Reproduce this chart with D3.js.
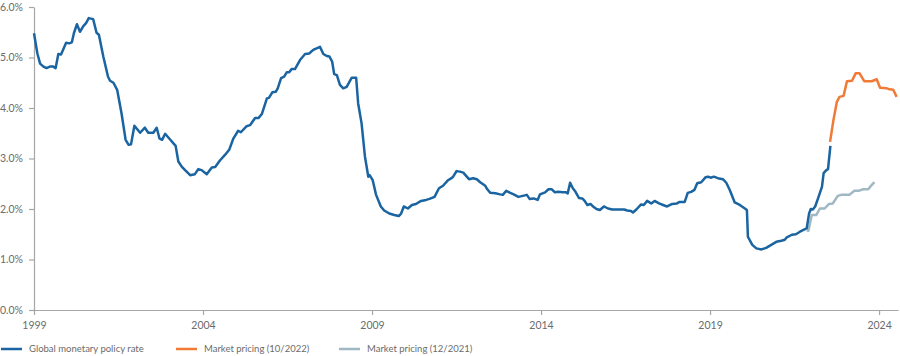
<!DOCTYPE html>
<html>
<head>
<meta charset="utf-8">
<script src="https://cdn.jsdelivr.net/npm/d3@7"></script>
<style>
  body { margin: 0; background: #fff; }
  svg text { font-family: Lato, "Open Sans", sans-serif; fill: #6b6b6b; }
</style>
</head>
<body>
<div id="chart"></div>
<script>
// global monetary policy rate (decimal year, %)
let policyYears = [1999.0, 1999.1, 1999.18, 1999.28, 1999.37, 1999.47, 1999.57, 1999.64, 1999.72, 1999.8, 1999.95,
  2000.04, 2000.12, 2000.18, 2000.27, 2000.36, 2000.46, 2000.54, 2000.62, 2000.75, 2000.85, 2000.92,
  2001.05, 2001.19, 2001.25, 2001.35, 2001.46, 2001.59, 2001.71, 2001.8, 2001.87, 2001.97,
  2002.14, 2002.28, 2002.38, 2002.53, 2002.63, 2002.71, 2002.79, 2002.88, 2003.02, 2003.19,
  2003.27, 2003.37, 2003.47, 2003.62, 2003.76, 2003.86, 2003.96, 2004.11, 2004.26, 2004.36,
  2004.5, 2004.65, 2004.78, 2004.9, 2005.04, 2005.12, 2005.29, 2005.39, 2005.54, 2005.64,
  2005.74, 2005.89, 2005.95, 2006.05, 2006.15, 2006.21, 2006.31, 2006.4, 2006.48, 2006.55,
  2006.62, 2006.72, 2006.87, 2007.02, 2007.14, 2007.26, 2007.46, 2007.56, 2007.66, 2007.74,
  2007.82, 2007.88, 2007.96, 2008.05, 2008.15, 2008.25, 2008.4, 2008.53, 2008.59, 2008.69,
  2008.79, 2008.89, 2008.93, 2009.02, 2009.12, 2009.26, 2009.36, 2009.51, 2009.66, 2009.79,
  2009.86, 2009.94, 2010.06, 2010.18, 2010.3, 2010.45, 2010.6, 2010.7, 2010.85, 2010.98,
  2011.1, 2011.25, 2011.35, 2011.4, 2011.5, 2011.6, 2011.7, 2011.79, 2011.87, 2011.99,
  2012.1, 2012.2, 2012.35, 2012.41, 2012.5, 2012.65, 2012.79, 2012.87, 2012.97, 2013.09,
  2013.19, 2013.33, 2013.46, 2013.58, 2013.66, 2013.78, 2013.9, 2013.97, 2014.12, 2014.22,
  2014.32, 2014.41, 2014.51, 2014.64, 2014.74, 2014.79, 2014.86, 2014.94, 2015.02, 2015.12,
  2015.22, 2015.29, 2015.37, 2015.46, 2015.54, 2015.64, 2015.74, 2015.86, 2015.98, 2016.11,
  2016.28, 2016.46, 2016.55, 2016.66, 2016.72, 2016.82, 2016.96, 2017.04, 2017.14, 2017.26,
  2017.36, 2017.49, 2017.61, 2017.73, 2017.88, 2018.02, 2018.1, 2018.25, 2018.34, 2018.44,
  2018.54, 2018.62, 2018.74, 2018.87, 2018.94, 2019.02, 2019.11, 2019.23, 2019.38, 2019.48,
  2019.58, 2019.73, 2019.88, 2020.03, 2020.09, 2020.12, 2020.25, 2020.37, 2020.52, 2020.66,
  2020.81, 2020.96, 2021.11, 2021.21, 2021.27, 2021.42, 2021.54, 2021.66, 2021.81, 2021.86,
  2021.93, 2021.98, 2022.04, 2022.11, 2022.21, 2022.31, 2022.36, 2022.44, 2022.49, 2022.56]
let policyRates = [5.48, 5.08, 4.88, 4.82, 4.79, 4.82, 4.82, 4.79, 5.07, 5.06, 5.29,
  5.28, 5.30, 5.48, 5.66, 5.51, 5.62, 5.68, 5.78, 5.76, 5.49, 5.45,
  5.02, 4.62, 4.54, 4.50, 4.36, 3.89, 3.37, 3.27, 3.28, 3.65,
  3.51, 3.61, 3.51, 3.51, 3.61, 3.40, 3.37, 3.49, 3.38, 3.25,
  2.94, 2.84, 2.77, 2.67, 2.69, 2.79, 2.77, 2.69, 2.82, 2.83,
  2.96, 3.07, 3.18, 3.40, 3.55, 3.52, 3.64, 3.66, 3.80, 3.80,
  3.88, 4.19, 4.20, 4.31, 4.32, 4.39, 4.59, 4.62, 4.71, 4.71,
  4.77, 4.77, 4.95, 5.07, 5.08, 5.15, 5.21, 5.07, 5.03, 5.02,
  4.92, 4.67, 4.65, 4.46, 4.39, 4.42, 4.60, 4.60, 4.09, 3.70,
  3.04, 2.64, 2.67, 2.57, 2.28, 2.05, 1.97, 1.91, 1.88, 1.86,
  1.91, 2.05, 2.01, 2.08, 2.10, 2.16, 2.18, 2.20, 2.24, 2.41,
  2.46, 2.57, 2.61, 2.64, 2.75, 2.74, 2.72, 2.65, 2.59, 2.61,
  2.59, 2.53, 2.46, 2.39, 2.32, 2.31, 2.29, 2.28, 2.36, 2.32,
  2.29, 2.24, 2.26, 2.28, 2.20, 2.21, 2.18, 2.29, 2.33, 2.39,
  2.39, 2.33, 2.34, 2.33, 2.33, 2.31, 2.52, 2.41, 2.34, 2.22,
  2.21, 2.16, 2.08, 2.10, 2.05, 2.00, 1.98, 2.05, 2.01, 1.99,
  1.99, 1.99, 1.97, 1.96, 1.93, 1.99, 2.09, 2.08, 2.16, 2.11,
  2.16, 2.11, 2.08, 2.05, 2.10, 2.11, 2.14, 2.14, 2.32, 2.34,
  2.38, 2.51, 2.53, 2.63, 2.64, 2.62, 2.64, 2.61, 2.59, 2.52,
  2.38, 2.13, 2.08, 2.01, 1.98, 1.45, 1.29, 1.22, 1.20, 1.23,
  1.29, 1.35, 1.37, 1.39, 1.44, 1.49, 1.50, 1.55, 1.60, 1.62,
  1.91, 2.00, 1.99, 2.05, 2.24, 2.44, 2.71, 2.77, 2.79, 3.25]

// market pricing as of 10/2022
let oct22Years = [2022.55, 2022.65, 2022.75, 2022.83, 2022.95, 2023.05, 2023.2, 2023.31, 2023.42, 2023.56,
  2023.78, 2023.93, 2024.03, 2024.23, 2024.31, 2024.42, 2024.52]
let oct22Rates = [3.33, 3.76, 4.12, 4.22, 4.24, 4.53, 4.54, 4.69, 4.69, 4.53,
  4.53, 4.57, 4.40, 4.39, 4.37, 4.36, 4.22]

// market pricing as of 12/2021
let dec21Years = [2021.86, 2021.91, 2022.01, 2022.14, 2022.25, 2022.39, 2022.52, 2022.63, 2022.78, 2022.88,
  2023.12, 2023.27, 2023.39, 2023.53, 2023.68, 2023.76, 2023.86]
let dec21Rates = [1.58, 1.57, 1.88, 1.88, 2.01, 2.01, 2.10, 2.11, 2.26, 2.28,
  2.28, 2.36, 2.36, 2.39, 2.39, 2.46, 2.53]

let yTicks = [0, 1, 2, 3, 4, 5, 6]
let xTicks = [1999, 2004, 2009, 2014, 2019, 2024]

let seriesNames = ['Global monetary policy rate', 'Market pricing (10/2022)', 'Market pricing (12/2021)']
let colors = ['#1a64a1', '#f07a36', '#9fb8c4']

let w_full = 900, h_full = 356
let margin = {top: 7, right: 2, bottom: 46, left: 34}
let width = w_full - margin.left - margin.right
let height = h_full - margin.top - margin.bottom

let svg = d3.select('#chart')
    .append('svg')
    .attr('width', w_full)
    .attr('height', h_full)

let x = d3.scaleLinear()
    .domain([1999, 2024.56])
    .range([0, width])

let y = d3.scaleLinear()
    .domain([0, 6])
    .range([height, 0])

let g = svg.append('g')
    .attr('transform', `translate(${margin.left},${margin.top})`)

// axes
let xAxis = g.append('g')
    .attr('transform', `translate(0,${height})`)
    .call(d3.axisBottom(x).tickValues(xTicks).tickFormat(d3.format('d')).tickSize(5).tickSizeOuter(0).tickPadding(7))
let yAxis = g.append('g')
    .call(d3.axisLeft(y).tickValues(yTicks).tickFormat(d => d.toFixed(1) + '%').tickSize(5).tickSizeOuter(0).tickPadding(6))

for (let ax of [xAxis, yAxis]) {
    ax.select('.domain').attr('stroke', '#a6a6a6').attr('stroke-width', 1.2)
    ax.selectAll('.tick line').attr('stroke', '#a6a6a6').attr('stroke-width', 1.2)
    ax.selectAll('.tick text').attr('font-size', 10.5).style('fill', '#6b6b6b')
}

// lines
let series = [
    d3.zip(policyYears, policyRates),
    d3.zip(oct22Years, oct22Rates),
    d3.zip(dec21Years, dec21Rates)
]
let line = d3.line()
    .x(d => x(d[0]))
    .y(d => y(d[1]))

// draw grey first, then blue, then orange
let order = [2, 0, 1]
g.selectAll('.line')
    .data(order)
    .join('path')
    .attr('class', 'line')
    .attr('fill', 'none')
    .attr('stroke', i => colors[i])
    .attr('stroke-width', 2.5)
    .attr('stroke-linejoin', 'round')
    .attr('d', i => line(series[i]))

// legend
let legendX = [0, 175, 338]
let legend = svg.append('g')
    .attr('transform', 'translate(0,349)')
let items = legend.selectAll('g')
    .data(seriesNames)
    .join('g')
    .attr('transform', (d, i) => `translate(${legendX[i]},0)`)
items.append('line')
    .attr('x1', 1).attr('x2', 22)
    .attr('stroke', (d, i) => colors[i])
    .attr('stroke-width', 2.5)
items.append('text')
    .attr('x', 29)
    .attr('dy', '0.35em')
    .attr('font-size', 9.5)
    .text(d => d)
</script>
</body>
</html>
